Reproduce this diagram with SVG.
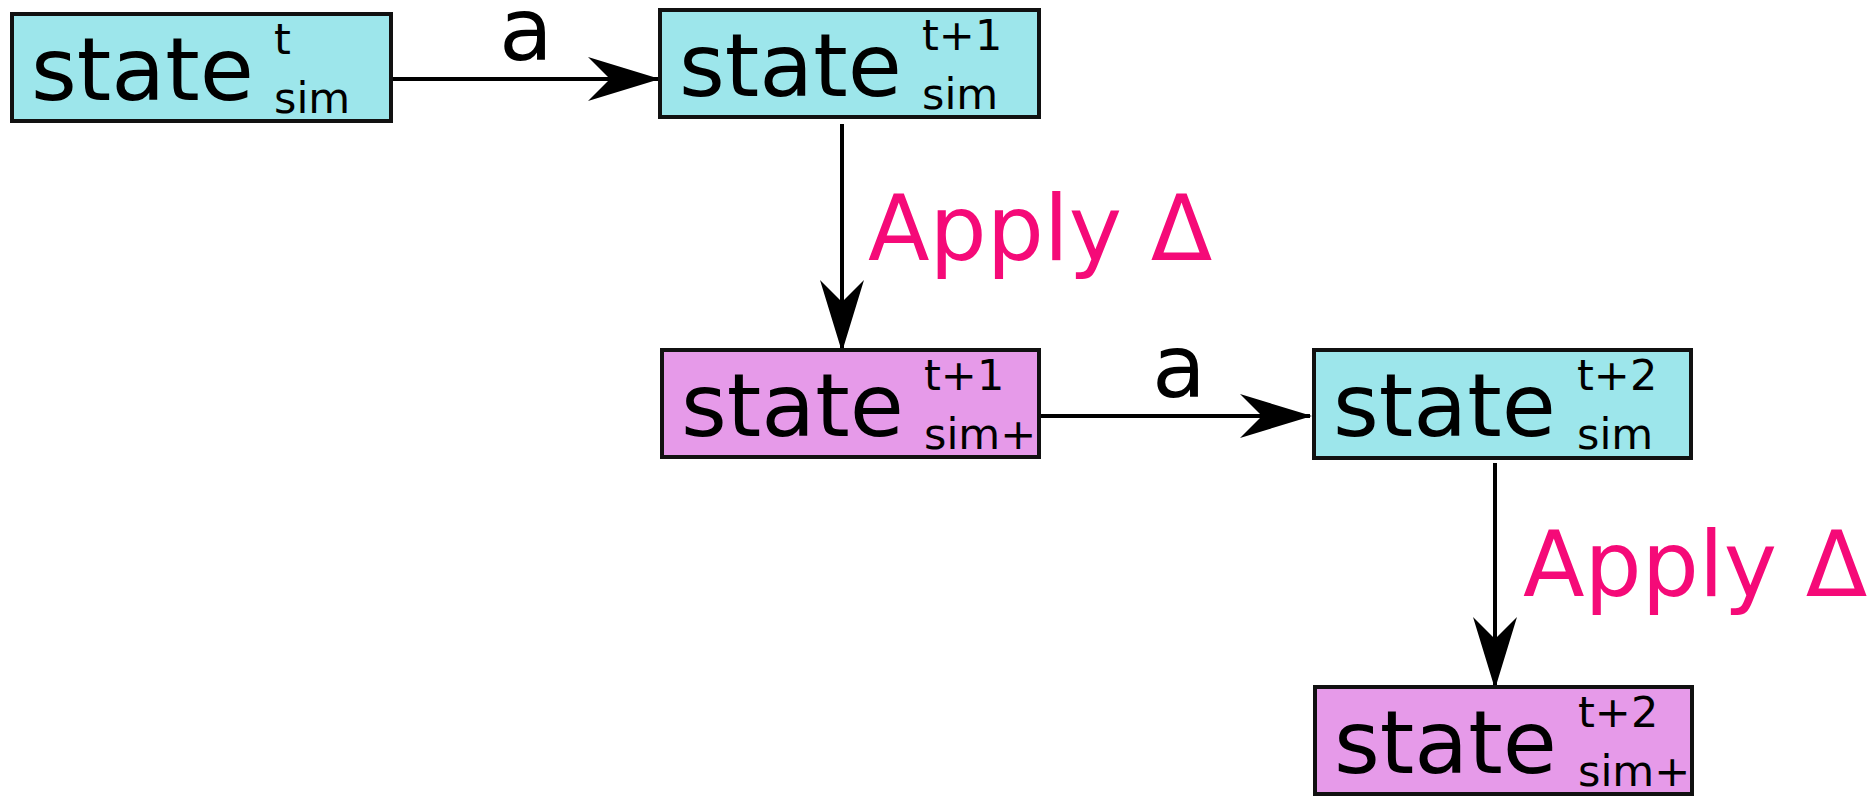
<svg xmlns="http://www.w3.org/2000/svg" width="1870" height="797" viewBox="0 0 1870 797">
  <style>
    .box { stroke: #111; stroke-width: 4; }
    .sim { fill: #9de6eb; }
    .simplus { fill: #e69ae9; }
    .main { font-family: "DejaVu Sans", sans-serif; font-size: 88px; fill: #000; }
    .idx { font-family: "DejaVu Sans", sans-serif; font-size: 43px; fill: #000; }
    .act { font-family: "DejaVu Sans", sans-serif; font-size: 88px; fill: #000; }
    .delta { font-family: "DejaVu Sans", sans-serif; font-size: 90px; fill: #f50a78; }
    .edge { stroke: #000; stroke-width: 4; fill: none; marker-end: url(#head); }
  </style>
  <defs>
    <!-- barbed arrowhead, tip at the line end -->
    <marker id="head" viewBox="-76 -25 80 50" markerWidth="80" markerHeight="50" refX="0" refY="0" orient="auto" markerUnits="userSpaceOnUse">
      <path d="M2,0 L-70,-22 L-48,0 L-70,22 Z" fill="#000"/>
    </marker>
  </defs>
  <rect width="1870" height="797" fill="#fff"/>

  <g id="connectors">
    <line class="edge" x1="393" y1="79" x2="658" y2="79"/>
    <line class="edge" x1="842" y1="124" x2="842" y2="350"/>
    <line class="edge" x1="1041" y1="416" x2="1310" y2="416"/>
    <line class="edge" x1="1495" y1="463" x2="1495" y2="687"/>
    <text class="act" x="499" y="60">a</text>
    <text class="delta" x="868" y="260">Apply Δ</text>
    <text class="act" x="1152" y="397">a</text>
    <text class="delta" x="1523" y="596">Apply Δ</text>
  </g>

  <g id="sim-t">
    <rect class="box sim" x="12" y="14" width="379" height="107"/>
    <text class="main" x="31" y="100">state</text>
    <text class="idx" x="274" y="54">t</text>
    <text class="idx" x="274" y="113">sim</text>
  </g>

  <g id="sim-t1">
    <rect class="box sim" x="660" y="10" width="379" height="107"/>
    <text class="main" x="679" y="96">state</text>
    <text class="idx" x="922" y="50">t+1</text>
    <text class="idx" x="922" y="109">sim</text>
  </g>

  <g id="simplus-t1">
    <rect class="box simplus" x="662" y="350" width="377" height="107"/>
    <text class="main" x="681" y="436">state</text>
    <text class="idx" x="924" y="390">t+1</text>
    <text class="idx" x="924" y="449">sim+</text>
  </g>

  <g id="sim-t2">
    <rect class="box sim" x="1314" y="350" width="377" height="108"/>
    <text class="main" x="1333" y="436">state</text>
    <text class="idx" x="1577" y="390">t+2</text>
    <text class="idx" x="1577" y="449">sim</text>
  </g>

  <g id="simplus-t2">
    <rect class="box simplus" x="1315" y="687" width="377" height="107"/>
    <text class="main" x="1334" y="773">state</text>
    <text class="idx" x="1578" y="727">t+2</text>
    <text class="idx" x="1578" y="786">sim+</text>
  </g>
</svg>
